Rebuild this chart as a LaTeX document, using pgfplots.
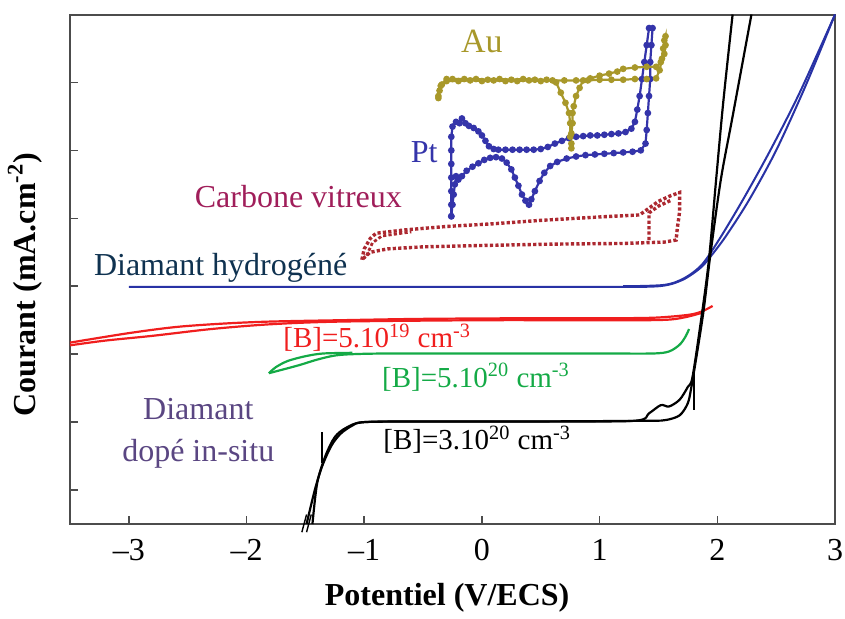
\documentclass[border=0pt]{standalone}
\usepackage{pgfplots}
\pgfplotsset{compat=1.18}
\usepackage{fontspec}
\setmainfont{Liberation Serif}

\definecolor{hblue}{RGB}{40,50,165}
\definecolor{bred}{RGB}{240,30,30}
\definecolor{bgreen}{RGB}{20,170,70}
\definecolor{auol}{RGB}{168,152,42}
\definecolor{ptblue}{RGB}{52,52,170}
\definecolor{cvred}{RGB}{172,40,48}
\definecolor{cvtxt}{RGB}{160,30,90}
\definecolor{dhtxt}{RGB}{15,50,80}
\definecolor{dptxt}{RGB}{90,70,130}

\begin{document}
\begin{tikzpicture}
\useasboundingbox (-35pt,-47pt) rectangle (387.5pt,262pt);
\begin{axis}[
    at={(0pt,0pt)}, anchor=south west,
    scale only axis, width=382.5pt, height=254.75pt,
    xmin=-3.5, xmax=3, ymin=0, ymax=7.5,
    xtick={-3,-2,-1,0,1,2,3},
    xticklabels={{\textendash3},{\textendash2},{\textendash1},0,1,2,3},
    ytick={0.5,1.5,2.5,3.5,4.5,5.5,6.5}, yticklabels={},
    tick pos=left, tick align=inside, major tick length=4pt,
    axis line style={gray!60!black, line width=1pt},
    every tick/.style={gray!60!black, line width=0.8pt},
    ticklabel style={font=\fontsize{16}{19}\selectfont},
    xticklabel style={yshift=-4pt},
    xlabel={\textbf{Potentiel (V/ECS)}},
    ylabel={\textbf{Courant (mA.cm\textsuperscript{-2})}},
    label style={font=\fontsize{16}{19}\selectfont},
    xlabel style={at={(axis description cs:0.493,-0.145)}, anchor=center},
    ylabel style={at={(axis description cs:-0.059,0.47)}, anchor=center},
    clip=false,
]

% Diamant hydrogene
\addplot[hblue, line width=1pt, smooth] coordinates {
(-3,3.49)(0,3.49)(1.0,3.49)(1.5,3.5)(1.7,3.59)(1.85,3.76)(1.93,3.91)(2.07,4.23)(2.27,4.77)(2.5,5.5)(2.75,6.45)(3,7.5)};
\addplot[hblue, line width=1pt, smooth] coordinates {
(3,7.5)(2.7,6.35)(2.45,5.5)(2.22,4.78)(2.02,4.2)(1.87,3.82)(1.72,3.62)(1.55,3.52)(1.2,3.5)};

% [B]=5.10^19
\addplot[bred, line width=1.1pt, smooth] coordinates {
(-3.5,2.67)(-3.0,2.81)(-2.6,2.9)(-2.2,2.95)(-1.8,2.98)(-1.2,3.0)(-0.5,3.02)(0.5,3.03)(1.2,3.03)(1.5,3.04)(1.76,3.08)(1.87,3.13)(1.96,3.21)};
\addplot[bred, line width=1.1pt, smooth] coordinates {
(1.87,3.11)(1.6,3.01)(1.0,3.0)(0,3.0)(-1.2,2.98)(-1.8,2.94)(-2.3,2.87)(-2.8,2.77)(-3.2,2.7)(-3.5,2.63)};

% [B]=5.10^20
\addplot[bgreen, line width=1.1pt, smooth] coordinates {
(-1.81,2.22)(-1.7,2.27)(-1.55,2.34)(-1.4,2.42)(-1.25,2.48)(-1.1,2.5)(-0.8,2.51)(0,2.51)(1.0,2.51)(1.45,2.51)(1.59,2.54)(1.68,2.64)(1.73,2.76)(1.76,2.87)};
\addplot[bgreen, line width=1.1pt, smooth] coordinates {
(-1.81,2.22)(-1.75,2.31)(-1.65,2.4)(-1.5,2.47)(-1.35,2.51)(-1.1,2.52)};

% [B]=3.10^20
\addplot[black, line width=1.1pt, smooth] coordinates {
(-1.49,0)(-1.42,0.5)(-1.36,0.84)(-1.28,1.15)(-1.2,1.33)(-1.1,1.45)(-1.0,1.5)(-0.5,1.51)(0.5,1.51)(1.3,1.52)(1.42,1.63)(1.52,1.75)(1.59,1.73)(1.68,1.83)(1.75,2.02)(1.79,2.17)(1.87,3.1)(1.93,3.91)(1.99,5.07)(2.05,6.2)(2.13,7.5)};
\addplot[black, line width=1.1pt, smooth] coordinates {
(2.29,7.5)(2.13,6.0)(2.03,5.07)(1.94,3.95)(1.88,3.1)(1.8,2.22)(1.78,2.02)(1.75,1.78)(1.68,1.6)(1.56,1.53)(1.4,1.52)(0.5,1.51)(-0.5,1.51)(-1.0,1.5)(-1.15,1.42)(-1.25,1.28)(-1.33,1.0)(-1.4,0.6)(-1.44,0)};
\addplot[black, line width=1.1pt] coordinates {(-1.36,0.9)(-1.36,1.36)};
\addplot[black, line width=1.1pt] coordinates {(1.8,1.68)(1.8,2.22)};

% Carbone vitreux
\addplot[cvred, line width=1.7pt, dash pattern=on 1.6pt off 1.1pt] coordinates {
(-1.02,3.89)(-1.0,4.05)(-0.95,4.2)(-0.9,4.28)(-0.65,4.33)(-0.3,4.38)(0.1,4.42)(0.5,4.47)(1.0,4.52)(1.34,4.55)(1.42,4.65)(1.5,4.75)(1.6,4.83)(1.68,4.88)(1.68,4.6)(1.66,4.35)(1.65,4.18)(1.55,4.15)(1.2,4.13)(0.6,4.12)(0.0,4.1)(-0.5,4.08)(-0.8,4.05)(-0.95,4.0)(-1.02,3.89)};
\addplot[cvred, line width=1.7pt, dash pattern=on 1.6pt off 1.1pt] coordinates {
(1.42,4.18)(1.42,4.58)(1.5,4.68)(1.6,4.76)};
\addplot[cvred, line width=1.4pt, dash pattern=on 1.6pt off 1.1pt] coordinates {
(-0.98,3.95)(-0.93,4.14)(-0.85,4.24)(-0.6,4.3)};

% Pt
\addplot[ptblue, line width=1.1pt, mark=*, mark size=1.1pt] coordinates {
(-0.26,4.53)(-0.26,4.7)(-0.26,4.9)(-0.26,5.1)(-0.26,5.3)(-0.26,5.5)(-0.26,5.7)(-0.25,5.85)(-0.22,5.92)(-0.19,5.9)(-0.17,5.97)(-0.14,5.9)(-0.11,5.86)(-0.07,5.83)(-0.03,5.78)(0.0,5.72)(0.03,5.64)(0.06,5.56)(0.1,5.52)(0.14,5.51)(0.2,5.51)(0.26,5.51)(0.32,5.51)(0.38,5.51)(0.44,5.51)(0.5,5.52)(0.56,5.55)(0.62,5.6)(0.68,5.64)(0.74,5.68)(0.8,5.7)(0.86,5.71)(0.92,5.72)(0.98,5.72)(1.04,5.73)(1.1,5.74)(1.16,5.75)(1.22,5.77)(1.27,5.82)(1.3,5.92)(1.32,6.1)(1.34,6.3)(1.36,6.55)(1.38,6.8)(1.4,7.05)(1.42,7.3)(1.45,7.3)(1.44,7.05)(1.43,6.8)(1.43,6.55)(1.42,6.3)(1.41,6.05)(1.4,5.8)(1.39,5.6)(1.35,5.5)(1.28,5.48)(1.2,5.47)(1.12,5.46)(1.04,5.45)(0.96,5.44)(0.88,5.43)(0.8,5.41)(0.72,5.38)(0.64,5.33)(0.58,5.27)(0.53,5.17)(0.49,5.05)(0.45,4.9)(0.42,4.78)(0.4,4.7)(0.37,4.76)(0.34,4.85)(0.31,4.98)(0.28,5.1)(0.25,5.22)(0.21,5.32)(0.17,5.38)(0.12,5.4)(0.07,5.39)(0.02,5.36)(-0.03,5.31)(-0.08,5.26)(-0.13,5.2)(-0.17,5.12)(-0.2,5.07)(-0.22,5.12)(-0.23,5.0)(-0.24,4.85)(-0.25,4.7)(-0.26,4.53)};

% Au
\addplot[auol, line width=1.1pt, mark=*, mark size=1.1pt] coordinates {
(-0.37,6.27)(-0.36,6.38)(-0.34,6.47)(-0.3,6.52)(-0.2,6.52)(-0.1,6.53)(0.0,6.52)(0.1,6.53)(0.2,6.52)(0.3,6.52)(0.4,6.53)(0.5,6.52)(0.6,6.53)(0.7,6.53)(0.8,6.53)(0.9,6.53)(1.0,6.54)(1.1,6.54)(1.2,6.54)(1.3,6.55)(1.4,6.55)(1.48,6.56)(1.51,6.68)(1.53,6.85)(1.54,7.0)(1.55,7.12)(1.56,7.18)(1.56,7.05)(1.55,6.92)(1.52,6.8)(1.48,6.73)(1.4,6.73)(1.3,6.72)(1.2,6.7)(1.15,6.66)(1.08,6.63)(1.0,6.6)(0.92,6.56)(0.86,6.53)(0.83,6.42)(0.8,6.3)(0.78,6.15)(0.77,6.05)(0.77,5.9)(0.76,5.75)(0.76,5.6)(0.76,5.53)(0.75,5.7)(0.75,5.9)(0.74,6.05)(0.71,6.2)(0.67,6.35)(0.63,6.5)(0.55,6.54)(0.45,6.54)(0.35,6.55)(0.25,6.54)(0.15,6.55)(0.05,6.54)(-0.05,6.55)(-0.15,6.55)(-0.25,6.55)(-0.3,6.55)(-0.35,6.45)(-0.37,6.3)};

% axis break
\draw[black, line width=0.7pt] (axis cs:-1.53,-0.12) -- (axis cs:-1.49,0.14);
\draw[black, line width=0.7pt] (axis cs:-1.49,-0.12) -- (axis cs:-1.45,0.14);

% labels
\node[auol, font=\fontsize{17}{20}\selectfont] at (axis cs:0.0,7.1) {Au};
\node[ptblue, font=\fontsize{16}{19}\selectfont] at (axis cs:-0.49,5.48) {Pt};
\node[cvtxt, font=\fontsize{16}{19}\selectfont] at (axis cs:-1.56,4.82) {Carbone vitreux};
\node[dhtxt, font=\fontsize{16}{19}\selectfont] at (axis cs:-2.22,3.77) {Diamant hydrogéné};
\node[bred, font=\fontsize{14.5}{17}\selectfont] at (axis cs:-0.89,2.74) {[B]=5.10\textsuperscript{19} cm\textsuperscript{-3}};
\node[bgreen, font=\fontsize{14.5}{17}\selectfont] at (axis cs:-0.05,2.16) {[B]=5.10\textsuperscript{20} cm\textsuperscript{-3}};
\node[black, font=\fontsize{14.5}{17}\selectfont] at (axis cs:-0.04,1.24) {[B]=3.10\textsuperscript{20} cm\textsuperscript{-3}};
\node[dptxt, align=center, font=\fontsize{16}{21}\selectfont] at (axis cs:-2.41,1.33) {Diamant\\dopé in-situ};
\end{axis}
\end{tikzpicture}
\end{document}
